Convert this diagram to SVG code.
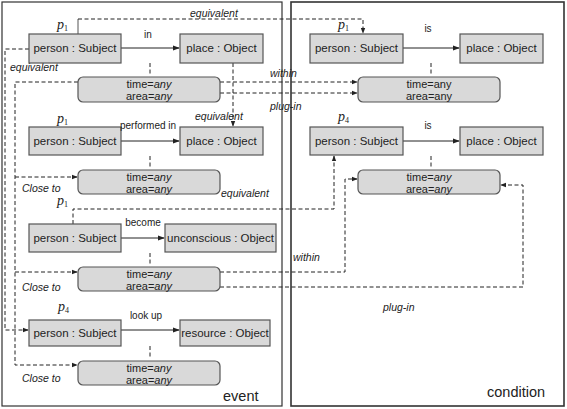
<svg xmlns="http://www.w3.org/2000/svg" width="567" height="409" viewBox="0 0 567 409">
<defs>
<marker id="ah" viewBox="0 0 8 8" refX="7" refY="4" markerWidth="7" markerHeight="7" markerUnits="userSpaceOnUse" orient="auto">
<path d="M0,1 L8,4 L0,7 Z" fill="#222"/>
</marker>
<marker id="ahd" viewBox="0 0 8 8" refX="7" refY="4" markerWidth="6" markerHeight="6" markerUnits="userSpaceOnUse" orient="auto">
<path d="M0,1 L8,4 L0,7 Z" fill="#222"/>
</marker>
</defs>
<style>
.panel{fill:#fff;stroke:#333;stroke-width:1.2}
.box{fill:#d9d9d9;stroke:#555;stroke-width:1.2}
.tb{fill:#d9d9d9;stroke:#555;stroke-width:1.2}
.bt{font-family:"Liberation Sans",Arial,sans-serif;font-size:11.5px;fill:#222;text-anchor:middle}
.tt{font-family:"Liberation Sans",Arial,sans-serif;font-size:11px;fill:#222;text-anchor:middle}
.lb{font-family:"Liberation Sans",Arial,sans-serif;font-size:10px;fill:#222}
.il{font-family:"Liberation Sans",Arial,sans-serif;font-size:10.5px;font-style:italic;fill:#222}
.p{font-family:"Liberation Serif","Times New Roman",serif;font-size:14px;font-style:italic;fill:#222}
.ps{font-family:"Liberation Serif","Times New Roman",serif;font-size:8px;font-style:normal}
.big{font-family:"Liberation Sans",Arial,sans-serif;font-size:14.5px;fill:#222}
.sol{fill:none;stroke:#222;stroke-width:1}
.dsh{fill:none;stroke:#222;stroke-width:1;stroke-dasharray:4,2.5}
</style>
<rect width="567" height="409" fill="#fff"/>
<g id="panel-event"><rect class="panel" x="2" y="2" width="280" height="404"/><text class="big" x="223" y="401">event</text></g>
<g id="panel-condition"><rect class="panel" x="291" y="2" width="273" height="404" style="stroke-width:1.6"/><text class="big" x="487" y="397">condition</text></g>

<g id="connectors">
<path class="sol" d="M121,48 H179" marker-end="url(#ah)"/>
<path class="sol" d="M121,141 H179" marker-end="url(#ah)"/>
<path class="sol" d="M121,238 H164" marker-end="url(#ah)"/>
<path class="sol" d="M121,330 H179" marker-end="url(#ah)"/>
<path class="sol" d="M403,48 H459" marker-end="url(#ah)"/>
<path class="sol" d="M403,141 H459" marker-end="url(#ah)"/>
<path class="dsh" d="M150,63 V74 M150,156 V168 M150,253 V265 M150,346 V359 M431,63 V74 M431,156 V168"/>
<path class="sol" d="M78,34 V19" style="stroke:#555"/>
<path class="dsh" d="M78,19 H363 V33" marker-end="url(#ahd)"/>
<path class="dsh" d="M29,49 H5 V330 H28" marker-end="url(#ahd)"/>
<path class="dsh" d="M78,82 H15 V365 H77" marker-end="url(#ahd)"/>
<path class="dsh" d="M15,177 H77" marker-end="url(#ahd)"/>
<path class="dsh" d="M15,272 H77" marker-end="url(#ahd)"/>
<path class="dsh" d="M220,82 H357" marker-end="url(#ahd)"/>
<path class="dsh" d="M220,93 H357" marker-end="url(#ahd)"/>
<path class="dsh" d="M233,63 V126" marker-end="url(#ahd)"/>
<path class="dsh" d="M73,224 V209 H334 V156" marker-end="url(#ahd)"/>
<path class="dsh" d="M220,272 H345 V179 H357" marker-end="url(#ahd)"/>
<path class="dsh" d="M220,287 H523 V185 H501" marker-end="url(#ahd)"/>
<text class="il" x="190" y="17">equivalent</text>
<text class="il" x="10" y="71">equivalent</text>
<text class="il" x="270" y="77">within</text>
<text class="il" x="270" y="110">plug-in</text>
<text class="il" x="195" y="120">equivalent</text>
<text class="il" x="22" y="192">Close to</text>
<text class="il" x="221" y="197">equivalent</text>
<text class="il" x="293" y="261">within</text>
<text class="il" x="22" y="291">Close to</text>
<text class="il" x="383" y="311">plug-in</text>
<text class="il" x="22" y="382">Close to</text>
</g>

<g id="e-person1"><text class="p" x="57" y="29">p<tspan class="ps" dy="2">1</tspan></text><rect class="box" x="29" y="34" width="92" height="29"/><text class="bt" x="75" y="52">person : Subject</text></g>
<g id="e-place1"><rect class="box" x="180" y="34" width="83" height="29"/><text class="bt" x="221.5" y="52">place : Object</text></g>
<g id="e-rel1"><text class="lb" x="148" y="38" text-anchor="middle">in</text></g>
<g id="e-time1"><rect class="tb" x="78" y="77" width="142" height="25" rx="5"/><text class="tt" x="149" y="88">time=<tspan font-style="italic">any</tspan></text><text class="tt" x="149" y="100">area=<tspan font-style="italic">any</tspan></text></g>

<g id="e-person2"><text class="p" x="57" y="123">p<tspan class="ps" dy="2">1</tspan></text><rect class="box" x="29" y="127" width="92" height="28"/><text class="bt" x="75" y="145">person : Subject</text></g>
<g id="e-place2"><rect class="box" x="180" y="127" width="83" height="28"/><text class="bt" x="221.5" y="145">place : Object</text></g>
<g id="e-rel2"><text class="lb" x="148" y="129" text-anchor="middle">performed in</text></g>
<g id="e-time2"><rect class="tb" x="78" y="170" width="142" height="24" rx="5"/><text class="tt" x="149" y="181">time=<tspan font-style="italic">any</tspan></text><text class="tt" x="149" y="193">area=<tspan font-style="italic">any</tspan></text></g>

<g id="e-person3"><text class="p" x="57" y="205">p<tspan class="ps" dy="2">1</tspan></text><rect class="box" x="29" y="224" width="92" height="28"/><text class="bt" x="75" y="242">person : Subject</text></g>
<g id="e-unconscious"><rect class="box" x="165" y="224" width="111" height="28"/><text class="bt" x="220.5" y="242">unconscious : Object</text></g>
<g id="e-rel3"><text class="lb" x="143" y="226" text-anchor="middle">become</text></g>
<g id="e-time3"><rect class="tb" x="78" y="267" width="142" height="24" rx="5"/><text class="tt" x="149" y="278">time=<tspan font-style="italic">any</tspan></text><text class="tt" x="149" y="290">area=<tspan font-style="italic">any</tspan></text></g>

<g id="e-person4"><text class="p" x="58" y="311">p<tspan class="ps" dy="2">4</tspan></text><rect class="box" x="29" y="320" width="92" height="26"/><text class="bt" x="75" y="337">person : Subject</text></g>
<g id="e-resource"><rect class="box" x="180" y="320" width="90" height="26"/><text class="bt" x="225" y="337">resource : Object</text></g>
<g id="e-rel4"><text class="lb" x="146" y="319" text-anchor="middle">look up</text></g>
<g id="e-time4"><rect class="tb" x="78" y="361" width="142" height="24" rx="5"/><text class="tt" x="149" y="372">time=<tspan font-style="italic">any</tspan></text><text class="tt" x="149" y="384">area=<tspan font-style="italic">any</tspan></text></g>

<g id="c-person1"><text class="p" x="338" y="29">p<tspan class="ps" dy="2">1</tspan></text><rect class="box" x="310" y="34" width="93" height="29"/><text class="bt" x="356.5" y="52">person : Subject</text></g>
<g id="c-place1"><rect class="box" x="460" y="34" width="83" height="29"/><text class="bt" x="501.5" y="52">place : Object</text></g>
<g id="c-rel1"><text class="lb" x="428" y="32" text-anchor="middle">is</text></g>
<g id="c-time1"><rect class="tb" x="358" y="77" width="142" height="25" rx="5"/><text class="tt" x="429" y="88">time=any</text><text class="tt" x="429" y="100">area=any</text></g>

<g id="c-person2"><text class="p" x="338" y="121">p<tspan class="ps" dy="2">4</tspan></text><rect class="box" x="310" y="127" width="93" height="28"/><text class="bt" x="356.5" y="145">person : Subject</text></g>
<g id="c-place2"><rect class="box" x="460" y="127" width="83" height="28"/><text class="bt" x="501.5" y="145">place : Object</text></g>
<g id="c-rel2"><text class="lb" x="428" y="129" text-anchor="middle">is</text></g>
<g id="c-time2"><rect class="tb" x="358" y="170" width="142" height="24" rx="5"/><text class="tt" x="429" y="181">time=<tspan font-style="italic">any</tspan></text><text class="tt" x="429" y="193">area=<tspan font-style="italic">any</tspan></text></g>
</svg>
